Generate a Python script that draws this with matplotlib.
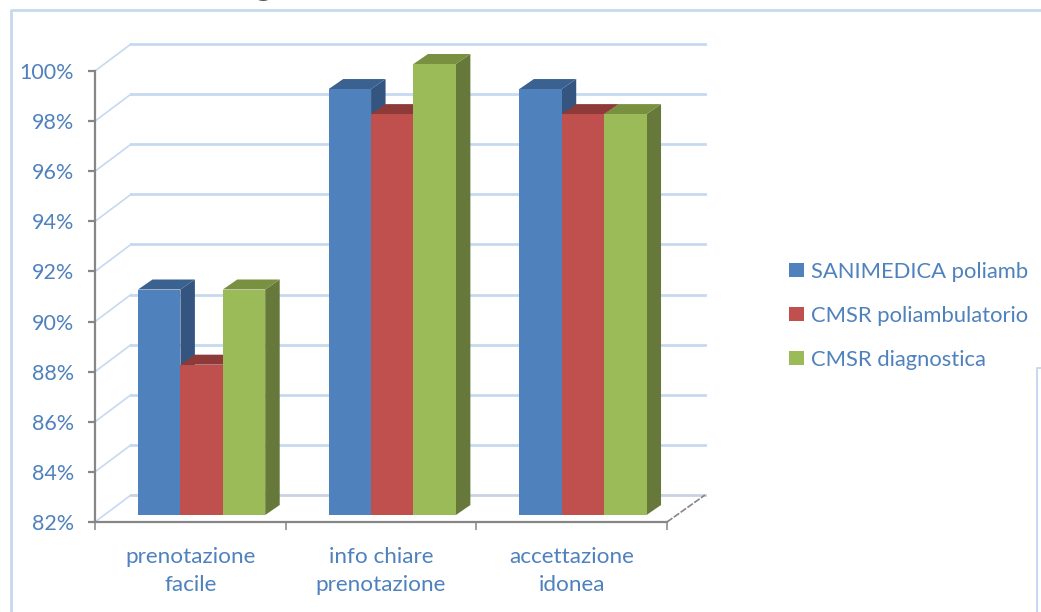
import matplotlib
matplotlib.use("Agg")
import matplotlib.pyplot as plt
from matplotlib.lines import Line2D
from matplotlib.patches import Patch, Polygon

categories = ["prenotazione\nfacile", "info chiare\nprenotazione", "accettazione\nidonea"]
series_names = ["SANIMEDICA poliamb", "CMSR poliambulatorio", "CMSR diagnostica"]
sanimedica = [91, 99, 99]
cmsr_poli = [88, 98, 98]
cmsr_diag = [91, 100, 98]
y_ticks = [82, 84, 86, 88, 90, 92, 94, 96, 98, 100]

front_colors = ["#4f81bd", "#c0504d", "#9bbb59"]
side_colors = ["#34557f", "#8a3a38", "#66783a"]
top_colors = ["#3b6190", "#8e3a38", "#789040"]
grid_color = "#c6d9f0"
text_color = "#4f81bd"
axis_color = "#868686"

W, H = 1041, 612
fig = plt.figure(figsize=(W / 100, H / 100), dpi=100)
plt.rcParams["font.family"] = ["Lato", "DejaVu Sans"]
ax = fig.add_axes([95 / W, 1 - 522 / H, (667 - 95) / W, (522 - 71) / H])
ax.set_xlim(0, 3)
ax.set_ylim(82, 100)
ax.patch.set_alpha(0)

# pixels to data units, for the fake 3d depth
px_x = 3 / (667 - 95)
px_y = 18 / (522 - 71)

# -------- back wall --------
wall_dx = 36 * px_x
wall_dy = 27 * px_y
for v in y_ticks:
    c = "#c9d3e0" if v == 82 else grid_color
    ax.plot([0, wall_dx], [v, v + wall_dy], color=grid_color, lw=1.2,
            clip_on=False, zorder=1)
    ax.plot([wall_dx, 3 + wall_dx + 2 * px_x], [v + wall_dy, v + wall_dy], color=c, lw=2,
            clip_on=False, zorder=1)
ax.plot([3, 3 + wall_dx + 2 * px_x], [82, 82 + wall_dy], color=axis_color, lw=1.2,
        ls=(0, (4, 1)), clip_on=False, zorder=1)

# -------- bars --------
series = [sanimedica, cmsr_poli, cmsr_diag]
bar_w = 42.4 * px_x
shift_x = 43 * px_x
shift_y = 7 * px_y
depth_x = 14.5 * px_x
depth_y = 10 * px_y
base = 82 + shift_y

for i in range(len(categories)):
    for s in [0, 1, 2]:
        v = series[s][i] + shift_y
        x0 = i + shift_x + s * bar_w
        x1 = x0 + bar_w
        ax.add_patch(Polygon([(x1, base), (x1, v), (x1 + depth_x, v + depth_y),
                              (x1 + depth_x, base + depth_y)],
                             fc=side_colors[s], ec="none", clip_on=False, zorder=2 + s))
        ax.add_patch(Polygon([(x0, v), (x1, v), (x1 + depth_x, v + depth_y),
                              (x0 + depth_x, v + depth_y)],
                             fc=top_colors[s], ec="none", clip_on=False, zorder=2 + s))

for s, vals in enumerate(series):
    xs = [i + shift_x + s * bar_w for i in range(len(categories))]
    ax.bar(xs, [v - 82 for v in vals], width=bar_w, bottom=base, align="edge",
           color=front_colors[s], clip_on=False, zorder=6)

# -------- axes --------
for name in ["top", "right"]:
    ax.spines[name].set_visible(False)
for name in ["left", "bottom"]:
    ax.spines[name].set_color(axis_color)
    ax.spines[name].set_linewidth(1.6)

ax.set_yticks(y_ticks)
ax.set_yticklabels([f"{v}%" for v in y_ticks])
ax.tick_params(axis="y", length=5, width=1.6, color=axis_color, labelcolor=text_color,
               labelsize=15.5, pad=10)
ax.set_xticks([0, 1, 2, 3])
ax.set_xticklabels([])
ax.tick_params(axis="x", length=6, width=1.1, color=axis_color)
ax.set_xticks([0.5, 1.5, 2.5], minor=True)
ax.set_xticklabels(categories, minor=True, color=text_color, fontsize=16.2, linespacing=1.49)
ax.tick_params(axis="x", which="minor", length=0, pad=18)

# -------- legend --------
handles = [Patch(fc=c, ec="none") for c in front_colors]
ax.legend(handles, series_names, loc="upper left",
          bbox_to_anchor=(782 / W, 1 - 255 / H), bbox_transform=fig.transFigure,
          frameon=False, fontsize=15.8, labelcolor=text_color, labelspacing=1.1,
          handlelength=0.7, handleheight=0.65, handletextpad=0.3, borderpad=0.3, borderaxespad=0)


# -------- frame lines and cut off bits of the slide --------
def frame_line(xs, ys, lw):
    fig.add_artist(Line2D([x / W for x in xs], [1 - y / H for y in ys],
                          color=grid_color, lw=lw, transform=fig.transFigure))


frame_line([10.5, 10.5, W], [H, 10, 10], 2.0)
frame_line([1037, 1037, W], [H, 368, 368], 1.4)

# descender of the slide title, the rest is outside the picture
fig.text(264 / W, 1 + 5 / H, "g", fontsize=24, color="#595959", ha="center", va="baseline")

fig.savefig("out.png", dpi=100)
